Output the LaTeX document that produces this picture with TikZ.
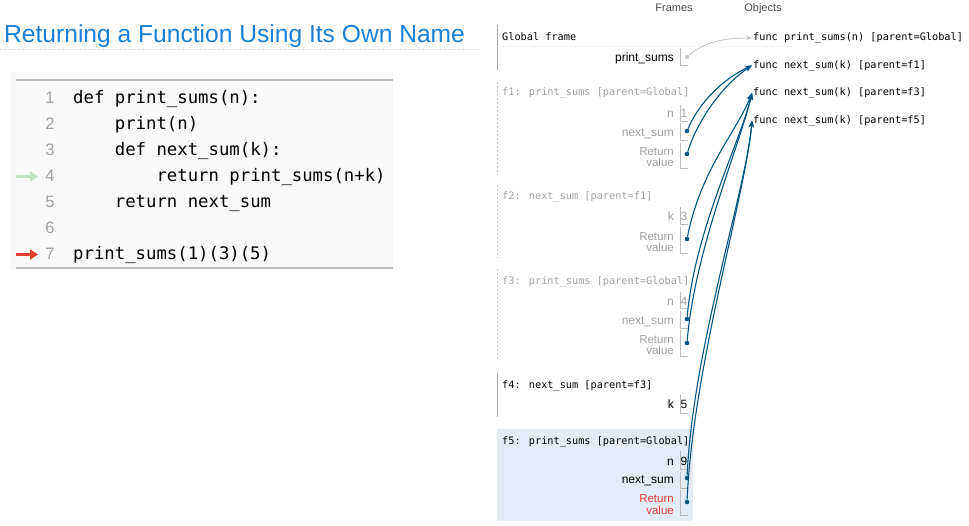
\documentclass[tikz,border=0pt]{standalone}
\usepackage{fontspec}
\setmainfont{Liberation Sans}
\newfontfamily\codefont{DejaVu Sans Mono}
\usetikzlibrary{arrows.meta}
\definecolor{titleblue}{RGB}{24,128,214}
\definecolor{arrowblue}{HTML}{005583}
\definecolor{inact}{HTML}{A0A0A0}
\definecolor{boxgray}{HTML}{BBBBBB}
\definecolor{activebg}{HTML}{E2EBF6}
\definecolor{retred}{HTML}{E93F34}
\definecolor{codebg}{HTML}{F9F9F9}
\definecolor{greenarrow}{HTML}{C3E1C3}
\definecolor{redarrow}{HTML}{E33C30}
\tikzset{
  codeline/.style={anchor=mid west, inner sep=0pt, font=\codefont\fontsize{17.3}{20}\selectfont},
  lineno/.style={anchor=mid, inner sep=0pt, text=inact, font=\fontsize{16.5}{20}\selectfont},
  ftitle/.style={anchor=mid west, inner sep=0pt, font=\codefont\fontsize{10.25}{12}\selectfont},
  obj/.style={anchor=mid west, inner sep=1pt, font=\codefont\fontsize{10.25}{12}\selectfont},
  varlbl/.style={anchor=mid east, inner sep=0pt, font=\fontsize{12}{13}\selectfont},
  retlbl/.style={anchor=east, inner sep=0pt, align=right, font=\fontsize{11.5}{11.5}\selectfont},
  valtxt/.style={anchor=mid, inner sep=0pt, font=\fontsize{12}{13}\selectfont},
  valbox/.style={draw=boxgray, line width=0.8pt},
  dotnode/.style={circle, fill=arrowblue, inner sep=0pt, minimum size=4.6pt},
  gdot/.style={circle, fill=boxgray!80, inner sep=0pt, minimum size=4pt},
  ptr/.style={draw=arrowblue, line width=1.1pt, -{Stealth[length=7pt,width=5.5pt]}},
  gptr/.style={draw=black!22, line width=0.9pt, -{Stealth[length=6pt,width=5pt,open]}},
  hdr/.style={anchor=mid, inner sep=0pt, text=black!70, font=\fontsize{11}{12}\selectfont},
  solidframe/.style={draw=black!35, line width=0.8pt},
  dashframe/.style={draw=black!25, line width=0.8pt, dash pattern=on 2pt off 2pt}
}
\begin{document}
\begin{tikzpicture}[x=1pt,y=-1pt]
\useasboundingbox (0,0) rectangle (969,525);
% title
\node[anchor=base west, inner sep=0pt, text=titleblue, font=\fontsize{24.6}{27}\selectfont] (title) at (4,42.5) {Returning a Function Using Its Own Name};
\draw[black!18, line width=0.8pt, dash pattern=on 1pt off 1.5pt] (0,49) -- (480,49);
% code panel
\fill[codebg] (10,72) rectangle (393,270);
\draw[boxgray, line width=1.4pt] (16,80) -- (393,80);
\draw[boxgray, line width=1.4pt] (16,268) -- (393,268);
\foreach \n/\yy in {1/100.5,2/126.5,3/152.5,4/178.5,5/204.5,6/230.5,7/256.5}{
  \node[lineno] (ln\n) at (50,\yy) {\n};
}
\node[codeline] (c1) at (73,100.5) {def print\_sums(n):};
\node[codeline] (c2) at (73,126.5) {\ \ \ \ print(n)};
\node[codeline] (c3) at (73,152.5) {\ \ \ \ def next\_sum(k):};
\node[codeline] (c4) at (73,178.5) {\ \ \ \ \ \ \ \ return print\_sums(n+k)};
\node[codeline] (c5) at (73,204.5) {\ \ \ \ return next\_sum};
\node[codeline] (c7) at (73,256.5) {print\_sums(1)(3)(5)};
\draw[greenarrow, line width=3.6pt, -{Triangle[length=8pt,width=10pt]}] (16,176.5) -- (38,176.5);
\draw[redarrow, line width=3.6pt, -{Triangle[length=8pt,width=10pt]}] (16,254.5) -- (38,254.5);
% headers
\node[hdr] (hf) at (674,9) {Frames};
\node[hdr] (ho) at (763,9) {Objects};
% objects
\node[obj] (o1) at (752,38) {func print\_sums(n) [parent=Global]};
\node[obj] (o2) at (752,65.5) {func next\_sum(k) [parent=f1]};
\node[obj] (o3) at (752,93) {func next\_sum(k) [parent=f3]};
\node[obj] (o4) at (752,120.5) {func next\_sum(k) [parent=f5]};
% Global frame
\draw[solidframe] (497,25) -- (497,70);
\draw[black!8, line width=0.6pt, dash pattern=on 1pt off 1pt] (497,46.5) -- (790,46.5);
\node[ftitle] (gt) at (502,38) {Global frame};
\node[varlbl] (gv1) at (674,59) {print\_sums};
\draw[valbox] (680,48) -- (680,65) -- (688,65);
\node[gdot] (gd1) at (687,57) {};
% f1
\draw[dashframe] (497,82) -- (497,175);
\node[ftitle, text=inact] (f1t) at (502,93) {f1: print\_sums [parent=Global]};
\node[varlbl, text=inact] (f1v1) at (674,115) {n};
\draw[valbox] (680,105) -- (680,121) -- (688,121);
\node[valtxt, text=inact] (f1x1) at (684,115) {1};
\node[varlbl, text=inact] (f1v2) at (674,134) {next\_sum};
\draw[valbox] (680,123) -- (680,140) -- (688,140);
\node[dotnode] (f1d2) at (687,131) {};
\node[retlbl, text=inact] (f1v3) at (674,157) {Return\\value};
\draw[valbox] (680,143) -- (680,168) -- (688,168);
\node[dotnode] (f1d3) at (687,154) {};
% f2
\draw[dashframe] (497,185) -- (497,258);
\node[ftitle, text=inact] (f2t) at (502,197) {f2: next\_sum [parent=f1]};
\node[varlbl, text=inact] (f2v1) at (674,218) {k};
\draw[valbox] (680,207) -- (680,224) -- (688,224);
\node[valtxt, text=inact] (f2x1) at (684,218) {3};
\node[retlbl, text=inact] (f2v2) at (674,242) {Return\\value};
\draw[valbox] (680,227) -- (680,253) -- (688,253);
\node[dotnode] (f2d2) at (687,239) {};
% f3
\draw[dashframe] (497,269) -- (497,360);
\node[ftitle, text=inact] (f3t) at (502,282) {f3: print\_sums [parent=Global]};
\node[varlbl, text=inact] (f3v1) at (674,303) {n};
\draw[valbox] (680,292) -- (680,308) -- (688,308);
\node[valtxt, text=inact] (f3x1) at (684,303) {4};
\node[varlbl, text=inact] (f3v2) at (674,322) {next\_sum};
\draw[valbox] (680,311) -- (680,328) -- (688,328);
\node[dotnode] (f3d2) at (687,319) {};
\node[retlbl, text=inact] (f3v3) at (674,345) {Return\\value};
\draw[valbox] (680,330) -- (680,356) -- (688,356);
\node[dotnode] (f3d3) at (687,343) {};
% f4
\draw[solidframe] (497,373) -- (497,417);
\node[ftitle] (f4t) at (502,386) {f4: next\_sum [parent=f3]};
\node[varlbl] (f4v1) at (674,406) {k};
\draw[valbox] (680,395) -- (680,413) -- (688,413);
\node[valtxt] (f4x1) at (684,406) {5};
% f5 (active)
\fill[activebg] (497,429) rectangle (693,521);
\node[ftitle] (f5t) at (502,442) {f5: print\_sums [parent=Global]};
\node[varlbl] (f5v1) at (674,463) {n};
\draw[valbox] (680,451) -- (680,469) -- (688,469);
\node[valtxt] (f5x1) at (684,463) {9};
\node[varlbl] (f5v2) at (674,481) {next\_sum};
\draw[valbox] (680,472) -- (680,488) -- (688,488);
\node[dotnode] (f5d2) at (687,478) {};
\node[retlbl, text=retred] (f5v3) at (674,504.5) {Return\\value};
\draw[valbox] (680,490) -- (680,515) -- (688,515);
\node[dotnode] (f5d3) at (687,502) {};
% pointers
\draw[gptr] (gd1) .. controls +(16,-14) and +(-30,0) .. (o1.west);
\draw[ptr] (f1d2) .. controls +(12,-28) and +(-30,14) .. (o2.west);
\draw[ptr] (f1d3) .. controls +(12,-38) and +(-26,17) .. (o2.west);
\draw[ptr] (f2d2) .. controls +(14,-70) and +(-16,40) .. (o3.west);
\draw[ptr] (f3d2) .. controls +(8,-90) and +(-12,50) .. (o3.west);
\draw[ptr] (f3d3) .. controls +(8,-95) and +(-12,52) .. (o3.west);
\draw[ptr] (f5d2) .. controls +(6,-130) and +(-6,70) .. (o4.west);
\draw[ptr] (f5d3) .. controls +(6,-135) and +(-6,72) .. (o4.west);
\end{tikzpicture}
\end{document}
